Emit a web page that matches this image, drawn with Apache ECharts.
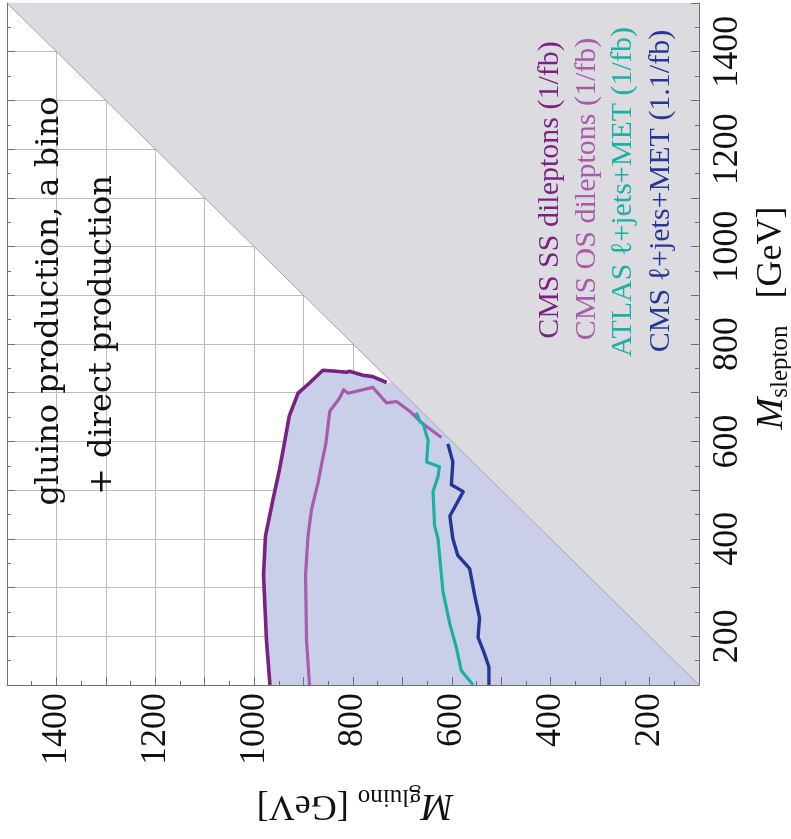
<!DOCTYPE html>
<html>
<head>
<meta charset="utf-8">
<script src="https://cdn.jsdelivr.net/npm/echarts@6/dist/echarts.min.js"></script>
<style>
  html, body { margin: 0; padding: 0; background: #fff; }
  #chart { width: 791px; height: 839px; }
</style>
</head>
<body>
<div id="chart"></div>
<script>
// Exclusion contours in the (M_gluino, M_slepton) plane, GeV: [gluino, slepton]
const cmsSS = [[968,100],[975,191],[981,326],[977,406],[962,480],[949,541],[939,595],[929,652],[911,699],[888,720],[861,746],[834,744],[813,742],[807,744],[780,736],[760,733],[732,721]];
const cmsOS = [[888,100],[894,191],[896,326],[891,406],[884,460],[871,514],[862,561],[855,595],[847,662],[827,689],[819,706],[810,699],[807,701],[760,711],[732,679],[712,682],[685,662],[662,639],[621,608]];
const atlasLJ = [[672,659],[664,640],[658,636],[648,602],[651,558],[625,548],[628,528],[638,497],[635,427],[628,400],[618,292],[604,225],[591,177],[581,130],[557,100]];
const cmsLJ = [[608,595],[598,558],[601,511],[577,497],[604,447],[598,400],[588,366],[564,339],[554,285],[544,238],[547,198],[534,164],[525,137],[525,100]];

// Kinematically forbidden corner (slepton heavier than gluino) and the diagonal
const forbidden = [[100,100],[1500,1500],[100,1500]];
const diagonal = [[100,100],[1500,1500]];
// Closing points of the combined excluded area along the diagonal
const envelopeClose = [[721,721],[100,100]];

const legendLabels = ['CMS SS dileptons (1/fb)', 'CMS OS dileptons (1/fb)', 'ATLAS \u2113+jets+MET (1/fb)', 'CMS \u2113+jets+MET (1.1/fb)'];
const titleLines = ['gluino production, a bino', '+ direct production'];
const axisMin = 100, axisMax = 1500;

const colors = { ss: '#7a2282', os: '#a95bab', atlas: '#1cafa6', cms: '#253795', fill: '#c9cfe9', gray: '#dbdbdf', edge: '#a4a4aa' };

const chart = echarts.init(document.getElementById('chart'), null, { renderer: 'canvas' });

function polygon(points, fill, z, opacity) {
  return {
    type: 'custom', coordinateSystem: 'cartesian2d', xAxisIndex: 0, yAxisIndex: 0,
    silent: true, z: z, clip: true, data: [points[0]],
    renderItem: function (params, api) {
      return { type: 'polygon', shape: { points: points.map(function (p) { return api.coord(p); }) },
               style: { fill: fill, opacity: opacity } };
    }
  };
}
function curve(points, color, width) {
  return { type: 'line', data: points, xAxisIndex: 0, yAxisIndex: 0, symbol: 'none', z: 5,
           lineStyle: { color: color, width: width, join: 'round' }, silent: true, animation: false };
}

const serif = '"Liberation Serif", "DejaVu Serif", serif';
const tickFmt = function (v) { return v % 200 === 0 ? String(v) : ''; };
const frameTick = { show: true, inside: true, length: 8, lineStyle: { color: '#6e6e6e', width: 1 } };
const frameMinor = { show: true, splitNumber: 2, length: 4, lineStyle: { color: '#6e6e6e', width: 1 } };
const gridLine = { show: true, lineStyle: { color: '#bdbdbd', width: 1 } };

const option = {
  animation: false,
  backgroundColor: '#ffffff',
  grid: { left: 7, right: 92, top: -8, bottom: 154, containLabel: false },
  xAxis: [
    { type: 'value', position: 'bottom', inverse: true, min: axisMin, max: axisMax, interval: 100, z: 10,
      axisLine: { show: true, onZero: false, lineStyle: { color: '#6e6e6e', width: 1 } },
      axisTick: frameTick, minorTick: frameMinor, splitLine: { show: false },
      axisLabel: { rotate: 90, margin: 8, formatter: tickFmt, fontFamily: serif, fontSize: 36, color: '#111' } },
    { type: 'value', position: 'top', inverse: true, min: axisMin, max: axisMax, interval: 100, z: 0,
      axisLine: { show: true, onZero: false, lineStyle: { color: '#6e6e6e' } },
      axisTick: { show: true, inside: true, length: 11, lineStyle: { color: '#6e6e6e' } },
      minorTick: frameMinor, splitLine: gridLine, axisLabel: { show: false } }
  ],
  yAxis: [
    { type: 'value', position: 'right', min: axisMin, max: axisMax, interval: 100, z: 10,
      axisLine: { show: true, onZero: false, lineStyle: { color: '#6e6e6e', width: 1 } },
      axisTick: frameTick, minorTick: frameMinor, splitLine: { show: false },
      axisLabel: { rotate: 90, margin: 11, formatter: tickFmt, fontFamily: serif, fontSize: 36, color: '#111' } },
    { type: 'value', position: 'left', min: axisMin, max: axisMax, interval: 100, z: 0,
      axisLine: { show: true, onZero: false, lineStyle: { color: '#6e6e6e' } },
      axisTick: frameTick, minorTick: frameMinor, splitLine: gridLine, axisLabel: { show: false } }
  ],
  series: [
    polygon(cmsSS.concat(envelopeClose), colors.fill, 1, 1),
    polygon(forbidden, colors.gray, 2, 0.97),
    { type: 'line', data: diagonal, symbol: 'none', z: 3, silent: true,
      lineStyle: { color: colors.edge, width: 1 } },
    curve(cmsSS, colors.ss, 3.6),
    curve(cmsOS, colors.os, 3.2),
    curve(atlasLJ, colors.atlas, 3.2),
    curve(cmsLJ, colors.cms, 3.4)
  ],
  graphic: [
    { type: 'text', x: 50, y: 301, rotation: Math.PI / 2, z: 20,
      style: { text: titleLines[0], fontFamily: '"DejaVu Serif", serif', fontSize: 32, fill: '#111', align: 'center', verticalAlign: 'middle' } },
    { type: 'text', x: 103, y: 335, rotation: Math.PI / 2, z: 20,
      style: { text: titleLines[1], fontFamily: '"DejaVu Serif", serif', fontSize: 32, fill: '#111', align: 'center', verticalAlign: 'middle' } },
    { type: 'text', x: 550, y: 190, rotation: Math.PI / 2, z: 20,
      style: { text: legendLabels[0], fontFamily: serif, fontSize: 30, fill: colors.ss, align: 'center', verticalAlign: 'middle' } },
    { type: 'text', x: 587, y: 189, rotation: Math.PI / 2, z: 20,
      style: { text: legendLabels[1], fontFamily: serif, fontSize: 30, fill: colors.os, align: 'center', verticalAlign: 'middle' } },
    { type: 'text', x: 623, y: 192, rotation: Math.PI / 2, z: 20,
      style: { text: legendLabels[2], fontFamily: serif, fontSize: 30, fill: colors.atlas, align: 'center', verticalAlign: 'middle' } },
    { type: 'text', x: 661, y: 191, rotation: Math.PI / 2, z: 20,
      style: { text: legendLabels[3], fontFamily: serif, fontSize: 30, fill: colors.cms, align: 'center', verticalAlign: 'middle' } },
    { type: 'text', x: 772, y: 318, rotation: Math.PI / 2, z: 20,
      style: { text: '{m|M}{s|slepton}   {u|[GeV]}', fontFamily: serif, fontSize: 36, fill: '#111', align: 'center', verticalAlign: 'middle',
               rich: { m: { fontStyle: 'italic', fontSize: 38, fontFamily: serif },
                       s: { fontSize: 25, fontFamily: serif, padding: [16, 0, 0, 0] },
                       u: { fontSize: 36, fontFamily: serif } } } },
    { type: 'text', x: 355, y: 805, rotation: Math.PI, z: 20,
      style: { text: '{m|M}{s|gluino} {u|[GeV]}', fontFamily: serif, fontSize: 36, fill: '#111', align: 'center', verticalAlign: 'middle',
               rich: { m: { fontStyle: 'italic', fontSize: 38, fontFamily: serif },
                       s: { fontSize: 25, fontFamily: serif, padding: [16, 0, 0, 0] },
                       u: { fontSize: 36, fontFamily: serif } } } }
  ]
};
chart.setOption(option);
</script>
</body>
</html>
